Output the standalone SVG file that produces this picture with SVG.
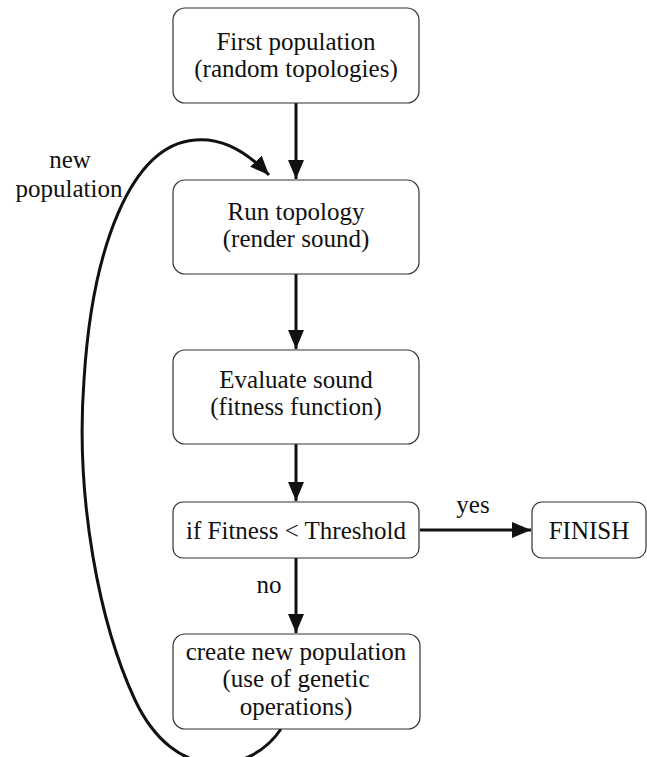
<svg xmlns="http://www.w3.org/2000/svg" width="647" height="757" viewBox="0 0 647 757">
<style>
.box{fill:#fff;stroke:#333;stroke-width:1.2}
.t{font-family:"Liberation Serif","Times New Roman",Times,Tinos,"Noto Serif","Nimbus Roman","FreeSerif","DejaVu Serif",serif;font-size:25px;fill:#111;text-anchor:middle}
.c{fill:none;stroke:#111;stroke-width:3}
</style>
<defs>
<marker id="ah" markerUnits="userSpaceOnUse" markerWidth="20" markerHeight="18" refX="19" refY="8" orient="auto">
<path d="M0,0 L19,8 L0,16 Z" fill="#111"/>
</marker>
</defs>
<rect width="647" height="757" fill="#fff"/>
<g id="connectors">
<line class="c" x1="296" y1="103" x2="296" y2="179" marker-end="url(#ah)"/>
<line class="c" x1="296" y1="274" x2="296" y2="349" marker-end="url(#ah)"/>
<line class="c" x1="296" y1="444" x2="296" y2="501" marker-end="url(#ah)"/>
<line class="c" x1="296" y1="558" x2="296" y2="633" marker-end="url(#ah)"/>
<line class="c" x1="420" y1="530" x2="531" y2="530" marker-end="url(#ah)"/>
<path class="c" d="M281,729 C250,775 175,785 135,700 C100,625 75,500 84,380 C92,250 130,145 195,140 C225,137 250,155 269,175" marker-end="url(#ah)"/>
<text class="t" x="473" y="513">yes</text>
<text class="t" x="269" y="593">no</text>
<text class="t" x="70" y="168">new</text>
<text class="t" x="69" y="197">population</text>
</g>
<g id="n1">
<rect class="box" x="173" y="8" width="246" height="95" rx="12"/>
<text class="t" x="296" y="50">First population</text>
<text class="t" x="296" y="77">(random topologies)</text>
</g>
<g id="n2">
<rect class="box" x="173" y="180" width="246" height="94" rx="12"/>
<text class="t" x="296" y="220">Run topology</text>
<text class="t" x="296" y="247">(render sound)</text>
</g>
<g id="n3">
<rect class="box" x="173" y="350" width="246" height="94" rx="12"/>
<text class="t" x="296" y="388">Evaluate sound</text>
<text class="t" x="296" y="415">(fitness function)</text>
</g>
<g id="n4">
<rect class="box" x="173" y="502" width="246" height="56" rx="10"/>
<text class="t" x="296" y="539">if Fitness &lt; Threshold</text>
</g>
<g id="n5">
<rect class="box" x="532" y="502" width="114" height="56" rx="10"/>
<text class="t" x="589" y="539">FINISH</text>
</g>
<g id="n6">
<rect class="box" x="173" y="634" width="247" height="95" rx="12"/>
<text class="t" x="296" y="660">create new population</text>
<text class="t" x="296" y="687">(use of genetic</text>
<text class="t" x="296" y="715">operations)</text>
</g>
</svg>
